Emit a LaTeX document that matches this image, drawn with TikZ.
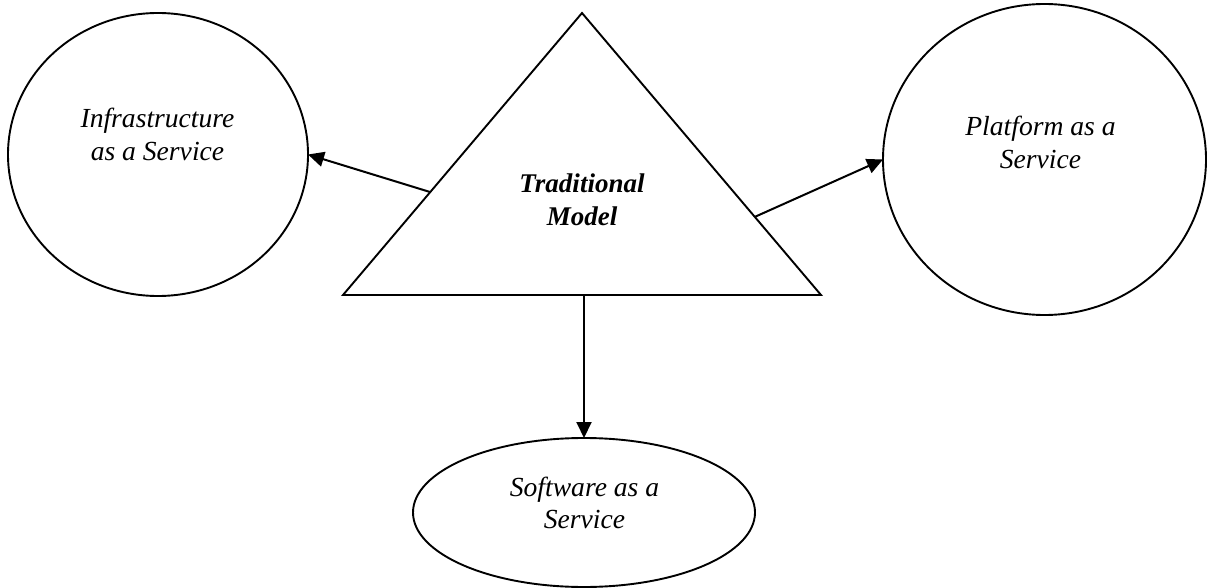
\documentclass[tikz,border=0pt]{standalone}
\usepackage{fontspec}
\setmainfont{Liberation Serif}
\usetikzlibrary{shapes.geometric,arrows.meta,calc}

\tikzset{
  outline/.style={draw=black, line width=1.9pt},
  oval/.style={outline, ellipse, inner sep=0pt, outer sep=0pt},
  caption/.style={align=center, inner sep=0pt,
    font=\itshape\fontsize{27.6}{32.5}\selectfont},
  link/.style={line width=2pt, -{Triangle[length=16pt,width=15pt]}}
}

\begin{document}
\begin{tikzpicture}[x=1pt, y=-1pt]
  \useasboundingbox (0,0) rectangle (1207,588);

  % service models
  \node[oval, minimum width=300pt, minimum height=283pt] (iaas) at (158,154.5) {};
  \node[oval, minimum width=323pt, minimum height=311pt] (paas) at (1044.5,159.5) {};
  \node[oval, minimum width=342pt, minimum height=149pt] (saas) at (584,512.5) {};

  \node[caption] (iaaslbl) at (157.5,134.5) {Infrastructure\\as a Service};
  \node[caption] (paaslbl) at (1040.5,142.5) {Platform as a\\Service};
  \node[caption] (saaslbl) at (584.5,503) {Software as a\\Service};

  % the traditional model triangle
  \coordinate (top) at (582,13);
  \coordinate (bl) at (343,295);
  \coordinate (br) at (821,295);
  \draw[outline, line join=miter] (top) -- (bl) -- (br) -- cycle;
  \node[caption, font=\bfseries\itshape\fontsize{27}{32.5}\selectfont]
    (trad) at (582,200) {Traditional\\Model};

  % arrow origins on the triangle sides
  \coordinate (lout) at ($(top)!0.635!(bl)$);
  \coordinate (rout) at ($(top)!0.723!(br)$);
  \coordinate (bout) at (saas.north |- bl);

  \draw[link] (lout) -- (iaas.east);
  \draw[link] (rout) -- (paas.west);
  \draw[link] (bout) -- (saas.north);
\end{tikzpicture}
\end{document}
